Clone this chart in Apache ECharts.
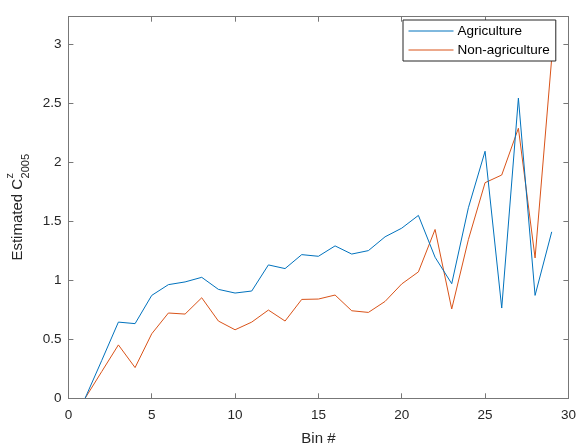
<!DOCTYPE html>
<html>
<head>
<meta charset="utf-8">
<script src="https://cdn.jsdelivr.net/npm/echarts@6/dist/echarts.min.js"></script>
<style>
html,body{margin:0;padding:0;background:#fff;}
#chart{width:579px;height:445px;}
</style>
</head>
<body>
<div id="chart"></div>
<script>
var bins = [1,2,3,4,5,6,7,8,9,10,11,12,13,14,15,16,17,18,19,20,21,22,23,24,25,26,27,28,29];
var agriculture = [0,0.32,0.645,0.632,0.871,0.962,0.985,1.024,0.922,0.891,0.908,1.129,1.098,1.216,1.202,1.29,1.221,1.25,1.367,1.44,1.548,1.194,0.970,1.613,2.091,0.764,2.541,0.871,1.409];
var nonAgriculture = [0,0.226,0.452,0.26,0.546,0.722,0.713,0.851,0.654,0.58,0.645,0.747,0.654,0.837,0.84,0.874,0.741,0.727,0.82,0.968,1.07,1.429,0.756,1.344,1.825,1.89,2.286,1.188,2.88];
var seriesNames = ['Agriculture','Non-agriculture'];
var xLabel = 'Bin #';
var yLabelMain = 'Estimated C';
var yLabelSup = 'z';
var yLabelSub = '2005';

var FONT = '"Liberation Sans", Arial, Helvetica, sans-serif';
var TXT = '#262626';
var AX = '#777777';
var G = {left:68.4, right:10.6, top:16.7, bottom:46.7};

function pairs(ys){ return ys.map(function(v,i){ return [bins[i], v]; }); }

var chart = echarts.init(document.getElementById('chart'), null, {renderer:'canvas'});

var cv = document.createElement('canvas').getContext('2d');
cv.font = '15px ' + FONT; var wMain = cv.measureText(yLabelMain).width;
cv.font = '11px ' + FONT; var wSub = cv.measureText(yLabelSub).width;
var totalLen = wMain + wSub;
var plotCY = G.top + (445 - G.top - G.bottom)/2;
var startY = plotCY + totalLen/2;

function axisBase(pos, isX){
  return {
    type:'value', position:pos, min:0,
    max: isX ? 30 : 3.23, interval: isX ? 5 : 0.5,
    axisLine:{show:true, onZero:false, lineStyle:{color:AX, width:1}},
    axisTick:{show:true, inside:true, length:5, lineStyle:{color:AX}},
    splitLine:{show:false},
    axisLabel:{show:false}
  };
}

var xB = axisBase('bottom', true);
xB.axisLabel = {show:true, color:TXT, fontFamily:FONT, fontSize:13.5, margin:10};
xB.name = xLabel; xB.nameLocation = 'middle'; xB.nameGap = 33;
xB.nameTextStyle = {color:TXT, fontFamily:FONT, fontSize:15};
var xT = axisBase('top', true);
var yL = axisBase('left', false);
yL.axisLabel = {show:true, color:TXT, fontFamily:FONT, fontSize:13.5, margin:7,
  formatter:function(v){ var r = Math.round(v*2)/2; return Math.abs(r - v) < 1e-6 ? String(r) : ''; }};
var yR = axisBase('right', false);

var option = {
  backgroundColor:'#ffffff',
  animation:false,
  grid:{left:G.left, right:G.right, top:G.top, bottom:G.bottom, containLabel:false, outerBoundsMode:'none'},
  xAxis:[xB, xT],
  yAxis:[yL, yR],
  legend:{
    orient:'vertical', left:403, top:20,
    padding:[4,6,4,5], itemGap:5, itemWidth:45, itemHeight:14,
    backgroundColor:'#ffffff', borderColor:'#262626', borderWidth:1,
    itemStyle:{opacity:0},
    lineStyle:{width:1},
    textStyle:{color:'#000000', fontFamily:FONT, fontSize:13.5, padding:[0,0,0,-1]},
    data:seriesNames
  },
  series:[
    {name:seriesNames[0], type:'line', data:pairs(agriculture), symbol:'none', showSymbol:false,
     lineStyle:{color:'#0072BD', width:1}, itemStyle:{color:'#0072BD'}, z:3},
    {name:seriesNames[1], type:'line', data:pairs(nonAgriculture), symbol:'none', showSymbol:false,
     lineStyle:{color:'#D95319', width:1}, itemStyle:{color:'#D95319'}, z:2}
  ],
  graphic:[{
    type:'group', x:17.5, y:startY, rotation:Math.PI/2,
    children:[
      {type:'text', x:0, y:0, style:{text:yLabelMain, font:'15px '+FONT, fill:TXT, textAlign:'left', textVerticalAlign:'middle'}},
      {type:'text', x:wMain+0.5, y:-8, style:{text:yLabelSup, font:'11px '+FONT, fill:TXT, textAlign:'left', textVerticalAlign:'middle'}},
      {type:'text', x:wMain+0.5, y:8, style:{text:yLabelSub, font:'11px '+FONT, fill:TXT, textAlign:'left', textVerticalAlign:'middle'}}
    ]
  }]
};
chart.setOption(option);
</script>
</body>
</html>
